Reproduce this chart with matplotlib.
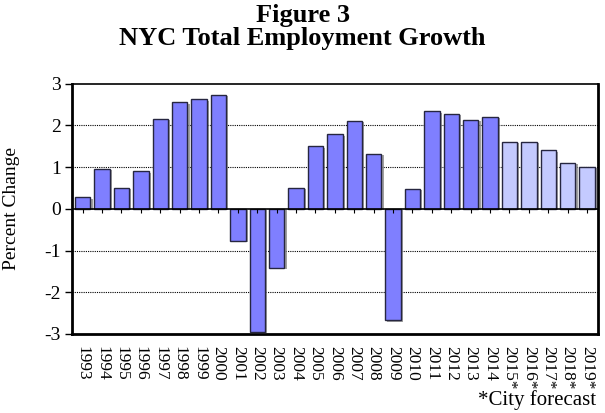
import matplotlib
matplotlib.use("Agg")
import matplotlib.pyplot as plt
import matplotlib.patheffects as pe
import numpy as np

years = ["1993", "1994", "1995", "1996", "1997", "1998", "1999", "2000", "2001",
         "2002", "2003", "2004", "2005", "2006", "2007", "2008", "2009", "2010",
         "2011", "2012", "2013", "2014", "2015*", "2016*", "2017*", "2018*", "2019*"]
values = [0.27, 0.95, 0.50, 0.90, 2.15, 2.55, 2.62, 2.73, -0.77,
          -2.95, -1.42, 0.50, 1.50, 1.78, 2.10, 1.32, -2.67, 0.48,
          2.33, 2.28, 2.13, 2.20, 1.60, 1.60, 1.40, 1.10, 1.00]
forecast = [False] * 22 + [True] * 5
yticks = [-3, -2, -1, 0, 1, 2, 3]

plt.rcParams['font.family'] = ['Liberation Serif', 'DejaVu Serif']

fig = plt.figure(figsize=(6.05, 4.13), dpi=100)
ax = fig.add_axes([0.119, 1 - 334 / 413, 0.869, (334 - 83.5) / 413])

x = np.arange(len(years))
colors = ['#C4CAFF' if f else '#7F7FFF' for f in forecast]
bars = ax.bar(x, values, width=0.8, color=colors, edgecolor='#262640', linewidth=1.0, zorder=3)
for b in bars:
    b.set_path_effects([pe.SimplePatchShadow(offset=(1.5, -1.0), shadow_rgbFace='#888888', alpha=0.8), pe.Normal()])

ax.set_xlim(-0.55, len(years) - 0.45)
ax.set_ylim(-3, 3)
ax.set_yticks(yticks)
ax.set_yticklabels([str(v) for v in yticks], fontsize=14)
for g in [-2, -1, 1, 2]:
    ax.axhline(g, color='black', linestyle=(0, (1, 1)), linewidth=0.8, zorder=1)
ax.axhline(0, color='black', linewidth=1.2, zorder=4)
ax.vlines(x, 0, -0.1, color='black', linewidth=0.8, zorder=4)

ax.set_xticks(x)
ax.set_xticklabels(years, rotation=270, fontsize=12.5, va='top', ha='center')
ax.tick_params(axis='x', length=0, pad=8.5)
ax.tick_params(axis='y', length=5, width=1.0, direction='out', pad=3)

for s in ax.spines.values():
    s.set_linewidth(2.0)
    s.set_color('black')
ax.spines['top'].set_linewidth(1.2)

ax.set_ylabel("Percent Change", fontsize=14)
ax.yaxis.set_label_coords(-0.099, 0.5)

fig.text(0.5, 1 - 22 / 413, "Figure 3", ha='center', va='baseline', fontsize=19, fontweight='bold')
fig.text(0.5, 1 - 45 / 413, "NYC Total Employment Growth", ha='center', va='baseline', fontsize=19, fontweight='bold')
fig.text(0.986, 0.008, "*City forecast", ha='right', va='bottom', fontsize=15)

fig.savefig("out.png", dpi=100)
